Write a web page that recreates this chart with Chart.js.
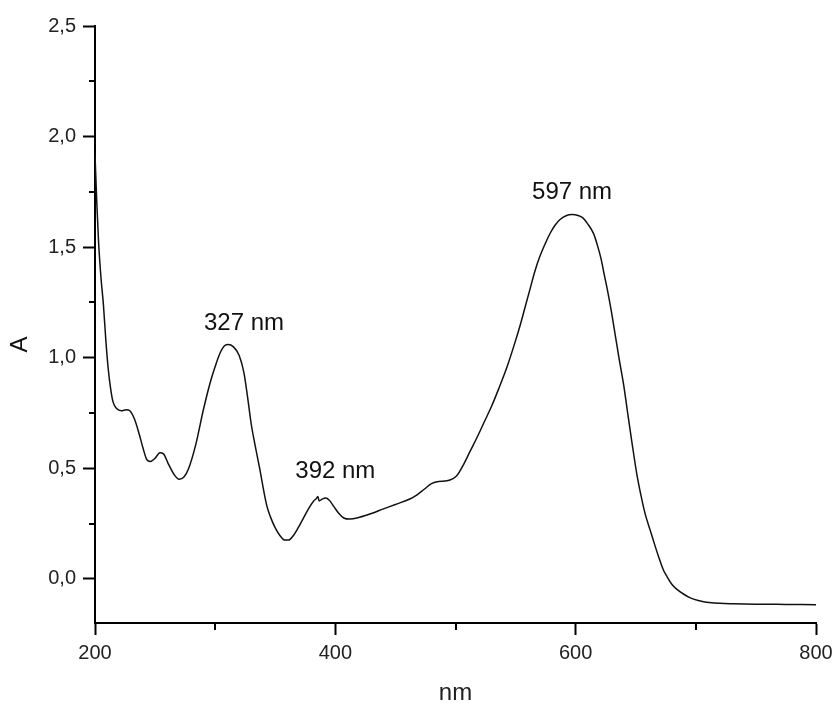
<!DOCTYPE html>
<html>
<head>
<meta charset="utf-8">
<script src="https://cdn.jsdelivr.net/npm/chart.js@4/dist/chart.umd.min.js"></script>
<style>
  body { margin: 0; background: #fff; }
  canvas { display: block; }
</style>
</head>
<body>
<canvas id="myChart" width="834" height="708"></canvas>
<script>
// spectrum: wavelength (nm) and absorbance
const wavelength = [200, 201.5, 203, 205, 207, 209, 211, 213, 215, 218, 222, 226, 229, 233, 237, 240,
  243, 246, 250, 254, 257, 261, 266, 270, 274, 278, 284, 290, 296, 300, 304, 308, 311, 315, 320,
  324, 327, 330, 333, 337, 340, 343, 346, 350, 354, 358, 361, 365, 369, 373, 378, 382, 384, 385.5,
  386.5, 389, 392, 395, 399, 403, 407, 412, 420, 430, 440, 450, 462, 468, 474, 480, 486, 493, 501,
  507, 512, 518, 524, 530, 536, 543, 549, 554, 558, 562, 566, 570, 575, 579, 583, 587, 592, 597,
  602, 606, 610, 615, 618, 621, 624, 627, 630, 633, 636, 640, 643, 647, 651, 655, 658, 662, 666,
  669, 673, 676, 680, 684, 690, 695, 702, 709, 720, 731, 750, 775, 800];
const absorbance = [1.92, 1.70, 1.52, 1.36, 1.24, 1.08, 0.95, 0.86, 0.80, 0.77, 0.76, 0.765, 0.76, 0.72, 0.65, 0.59,
  0.54, 0.53, 0.545, 0.57, 0.565, 0.52, 0.47, 0.45, 0.46, 0.50, 0.61, 0.76, 0.89, 0.96, 1.02, 1.055, 1.06, 1.05, 1.01,
  0.93, 0.82, 0.70, 0.61, 0.50, 0.41, 0.33, 0.28, 0.23, 0.195, 0.175, 0.175, 0.195, 0.23, 0.27, 0.32, 0.352, 0.362, 0.372,
  0.352, 0.36, 0.365, 0.355, 0.325, 0.295, 0.275, 0.27, 0.278, 0.295, 0.316, 0.336, 0.361, 0.38, 0.405, 0.43, 0.44, 0.443, 0.466,
  0.52, 0.575, 0.64, 0.71, 0.78, 0.86, 0.96, 1.06, 1.15, 1.23, 1.31, 1.39, 1.455, 1.52, 1.565, 1.60, 1.625, 1.642, 1.647,
  1.643, 1.632, 1.605, 1.56, 1.51, 1.45, 1.37, 1.29, 1.20, 1.10, 1.00, 0.875, 0.76, 0.61, 0.47, 0.36, 0.29, 0.22, 0.15,
  0.10, 0.04, 0.01, -0.025, -0.047, -0.07, -0.085, -0.098, -0.106, -0.111, -0.113, -0.115, -0.116, -0.117];

const xTicks = [200, 400, 600, 800];
const xMinor = [300, 500, 700];
const yTicks = [0, 0.5, 1, 1.5, 2, 2.5];
const yMinor = [0.25, 0.75, 1.25, 1.75, 2.25];

// peak labels (text, wavelength, absorbance of the label centre)
const peakText = ['327 nm', '392 nm', '597 nm'];
const peakX = [324, 400, 597];
const peakY = [1.155, 0.485, 1.746];

const FONT = '"Liberation Sans", Arial, sans-serif';

const points = wavelength.map((w, i) => ({ x: w, y: absorbance[i] }));

const extras = {
  id: 'extras',
  afterDraw(chart) {
    const ctx = chart.ctx;
    const xs = chart.scales.x, ys = chart.scales.y;
    const area = chart.chartArea;
    ctx.save();
    // minor ticks
    ctx.strokeStyle = '#000';
    ctx.lineWidth = 2;
    ctx.beginPath();
    xMinor.forEach(v => {
      const px = Math.round(xs.getPixelForValue(v));
      ctx.moveTo(px, area.bottom);
      ctx.lineTo(px, area.bottom + 7);
    });
    yMinor.forEach(v => {
      const py = Math.round(ys.getPixelForValue(v));
      ctx.moveTo(area.left, py);
      ctx.lineTo(area.left - 6, py);
    });
    ctx.stroke();
    // peak labels
    ctx.fillStyle = '#111';
    ctx.font = '24px ' + FONT;
    ctx.textAlign = 'center';
    ctx.textBaseline = 'middle';
    peakText.forEach((t, i) => {
      ctx.fillText(t, xs.getPixelForValue(peakX[i]), ys.getPixelForValue(peakY[i]));
    });
    // y axis title
    ctx.translate(20, (area.top + area.bottom) / 2 + 20);
    ctx.rotate(-Math.PI / 2);
    ctx.fillText('A', 0, 0);
    ctx.restore();
  }
};

let canva = document.getElementById('myChart').getContext('2d');

let config = {
  type: 'line',
  data: {
    datasets: [{
      label: 'A',
      data: points,
      borderColor: '#111',
      borderWidth: 1.5,
      pointRadius: 0,
      cubicInterpolationMode: 'monotone',
      fill: false
    }]
  },
  options: {
    responsive: false,
    animation: false,
    layout: { padding: { top: 26, right: 18, left: 0, bottom: 0 } },
    plugins: {
      legend: { display: false },
      tooltip: { enabled: false }
    },
    scales: {
      x: {
        type: 'linear',
        min: 200,
        max: 800,
        afterBuildTicks: s => { s.ticks = xTicks.map(v => ({ value: v })); },
        afterFit: s => { s.height = 85; s.paddingRight = 0; s.paddingLeft = 0; },
        border: { display: true, color: '#000', width: 2 },
        grid: { drawOnChartArea: false, drawTicks: true, tickLength: 12, tickColor: '#000', tickWidth: 2 },
        ticks: { color: '#222', font: { size: 20, family: FONT }, padding: 6, maxRotation: 0 },
        title: { display: true, text: 'nm', color: '#222', font: { size: 24, family: FONT }, padding: { top: 14, bottom: 0 } }
      },
      y: {
        type: 'linear',
        min: -0.2,
        max: 2.5,
        afterBuildTicks: s => { s.ticks = yTicks.map(v => ({ value: v })); },
        afterFit: s => { s.width = 95; s.paddingTop = 0; s.paddingBottom = 0; },
        border: { display: true, color: '#000', width: 2 },
        grid: { drawOnChartArea: false, drawTicks: true, tickLength: 12, tickColor: '#000', tickWidth: 2 },
        ticks: { color: '#222', font: { size: 20, family: FONT }, padding: 7,
          callback: v => v.toFixed(1).replace('.', ',') }
      }
    }
  },
  plugins: [extras]
};

window.grafica = new Chart(canva, config);
</script>
</body>
</html>
